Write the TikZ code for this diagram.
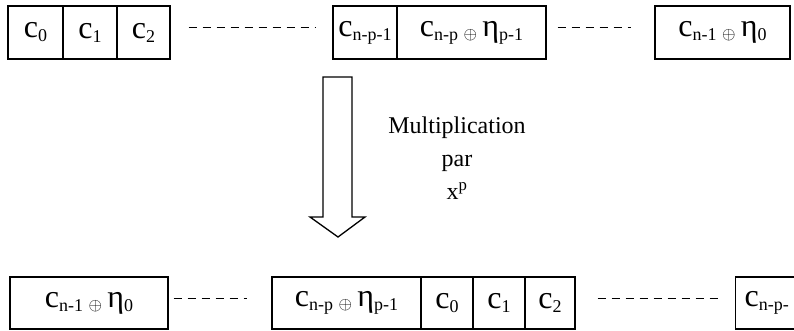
\documentclass[tikz,border=0pt]{standalone}
\usepackage{fontspec}
\setmainfont{Liberation Serif}
\newcommand\sbx[1]{\raisebox{-4pt}{\fontsize{18}{18}\selectfont #1}}
\newcommand\opl{\raisebox{-3pt}{\fontsize{18}{18}\selectfont$\oplus$}}
\begin{document}
\begin{tikzpicture}[x=1pt,y=-1pt,
  cell/.style={draw, line width=1.3pt, inner sep=0pt, minimum height=53pt,
    font=\fontsize{32}{32}\selectfont},
  dashline/.style={line width=0.7pt, dash pattern=on 8pt off 6pt},
  bigarrow/.style={draw, line width=1.3pt, line join=miter}]
\useasboundingbox (0,0) rectangle (794,330);
\clip (0,0) rectangle (794,330);
% top row
\node[cell, minimum width=55pt] (t0) at (35.5,32.5) {c\sbx{0}};
\node[cell, minimum width=54pt] (t1) at (90,32.5) {c\sbx{1}};
\node[cell, minimum width=53pt] (t2) at (143.5,32.5) {c\sbx{2}};
\node[cell, minimum width=64pt] (tnp1) at (365,32.5) {c\sbx{n-p-1}};
\node[cell, minimum width=149pt] (tnp) at (471.5,32.5) {c\sbx{n-p}\,\opl\,η\sbx{p-1}};
\node[cell, minimum width=135pt] (tn1) at (722.5,32.5) {c\sbx{n-1}\,\opl\,η\sbx{0}};
\draw[dashline] ([xshift=18pt,yshift=5pt]t2.east) -- ([xshift=-16pt,yshift=5pt]tnp1.west);
\draw[dashline] ([xshift=11pt,yshift=5pt]tnp.east) -- ([xshift=-23pt,yshift=5pt]tn1.west);
% arrow
\path[bigarrow] (323,77) -- (352,77) -- (352,217) -- (365,217) -- (338,237)
  -- (310,217) -- (323,217) -- cycle;
\node[font=\fontsize{24}{33}\selectfont, align=center] (lbl) at (457,158)
  {Multiplication\\par\\x\textsuperscript{p}};
% bottom row
\node[cell, minimum height=52pt, minimum width=158pt] (bn1) at (89,303) {c\sbx{n-1}\,\opl\,η\sbx{0}};
\node[cell, minimum height=52pt, minimum width=149pt] (bnp) at (346.5,303) {c\sbx{n-p}\,\opl\,η\sbx{p-1}};
\node[cell, minimum height=52pt, minimum width=52pt] (b0) at (447,303) {c\sbx{0}};
\node[cell, minimum height=52pt, minimum width=52pt] (b1) at (499,303) {c\sbx{1}};
\node[cell, minimum height=52pt, minimum width=50pt] (b2) at (550,303) {c\sbx{2}};
\node[cell, minimum height=52pt, anchor=west, inner xsep=9pt, text width=57pt, align=left]
  (bnp1) at (735,303) {c\sbx{n-p-}};
\draw[dashline] ([xshift=5pt,yshift=5pt]bn1.east) -- ([xshift=-24pt,yshift=5pt]bnp.west);
\draw[dashline] ([xshift=22pt,yshift=5pt]b2.east) -- ([xshift=-13pt,yshift=5pt]bnp1.west);
\end{tikzpicture}
\end{document}
